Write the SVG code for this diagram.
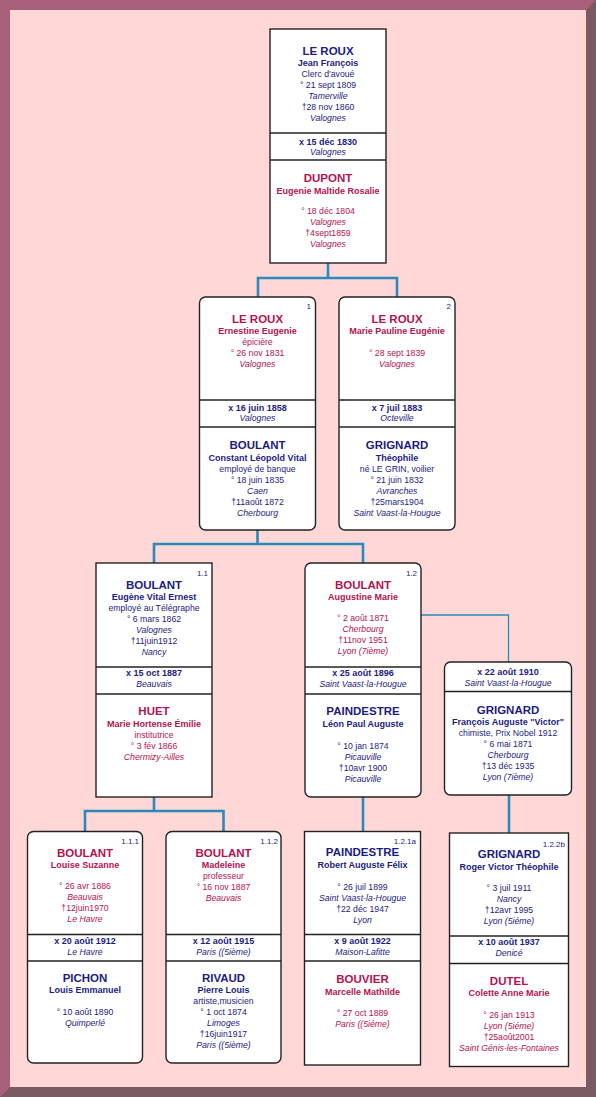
<svg xmlns="http://www.w3.org/2000/svg" width="596" height="1097" viewBox="0 0 596 1097">
<style>
.box{fill:#fff;stroke:#222;stroke-width:1.4}
.dv{stroke:#222;stroke-width:1.4}
.con{fill:none;stroke:#2a8ab9;stroke-width:2.6}
.thin{fill:none;stroke:#2a8ab9;stroke-width:1.3}
text{font-family:"Liberation Sans",Arial,sans-serif;text-anchor:middle;font-size:8.7px}
.sn{font-weight:bold;font-size:11.5px}
.gn{font-weight:bold;font-size:9px}
.mx{font-weight:bold;font-size:9px}
.i{font-style:italic}
.m{fill:#1c1c80}
.f{fill:#b5124f}
.num{font-size:8px;text-anchor:end;fill:#1c1c80}
</style>
<rect x="0" y="0" width="596" height="1097" fill="#a8607a"/>
<polygon points="596,0 596,1097 0,1097 10,1087 586,1087 586,10" fill="#7a5a62"/>
<rect x="10" y="10" width="576" height="1077" fill="#ffd7d7"/>

<g id="connectors">
<path class="con" d="M328,263V278M258,297V278H397V297"/>
<path class="con" d="M257.5,530V544M154,563V544H363V563"/>
<path class="con" d="M154,797V811M85,831V811H223.5V831"/>
<path class="con" d="M363,797V831"/>
<path class="con" d="M509,795V833"/>
<path class="thin" d="M421,615H508.5V662"/>
</g>

<g id="n0">
<rect class="box" x="270" y="29" width="116" height="234"/>
<line class="dv" x1="270" y1="133" x2="386" y2="133"/>
<line class="dv" x1="270" y1="160" x2="386" y2="160"/>
<text x="328" y="55" class="sn m">LE ROUX</text>
<text x="328" y="66" class="gn m">Jean François</text>
<text x="328" y="77" class="m">Clerc d'avoué</text>
<text x="328" y="88" class="m">° 21 sept 1809</text>
<text x="328" y="99" class="m i">Tamerville</text>
<text x="328" y="110" class="m">†28 nov 1860</text>
<text x="328" y="121" class="m i">Valognes</text>
<text x="328" y="144.5" class="mx m">x 15 déc 1830</text>
<text x="328" y="155" class="m i">Valognes</text>
<text x="328" y="182" class="sn f">DUPONT</text>
<text x="328" y="193.5" class="gn f">Eugenie Maltide Rosalie</text>
<text x="328" y="214" class="f">° 18 déc 1804</text>
<text x="328" y="225" class="f i">Valognes</text>
<text x="328" y="236" class="f">†4sept1859</text>
<text x="328" y="247" class="f i">Valognes</text>
</g>

<g id="n1">
<rect class="box" x="199.5" y="297" width="116" height="233" rx="6"/>
<line class="dv" x1="199.5" y1="400" x2="315.5" y2="400"/>
<line class="dv" x1="199.5" y1="427" x2="315.5" y2="427"/>
<text x="311" y="308.5" class="num">1</text>
<text x="257.5" y="322.5" class="sn f">LE ROUX</text>
<text x="257.5" y="334" class="gn f">Ernestine Eugenie</text>
<text x="257.5" y="344.5" class="f">épicière</text>
<text x="257.5" y="355.5" class="f">° 26 nov 1831</text>
<text x="257.5" y="366.5" class="f i">Valognes</text>
<text x="257.5" y="410.5" class="mx m">x 16 juin 1858</text>
<text x="257.5" y="421" class="m i">Valognes</text>
<text x="257.5" y="449" class="sn m">BOULANT</text>
<text x="257.5" y="460.5" class="gn m">Constant Léopold Vital</text>
<text x="257.5" y="471.5" class="m">employé de banque</text>
<text x="257.5" y="482.5" class="m">° 18 juin 1835</text>
<text x="257.5" y="493.5" class="m i">Caen</text>
<text x="257.5" y="504.5" class="m">†11août 1872</text>
<text x="257.5" y="515.5" class="m i">Cherbourg</text>
</g>

<g id="n2">
<rect class="box" x="339" y="297" width="116" height="233" rx="6"/>
<line class="dv" x1="339" y1="400" x2="455" y2="400"/>
<line class="dv" x1="339" y1="427" x2="455" y2="427"/>
<text x="451" y="308.5" class="num">2</text>
<text x="397" y="322.5" class="sn f">LE ROUX</text>
<text x="397" y="334" class="gn f">Marie Pauline Eugénie</text>
<text x="397" y="355.5" class="f">° 28 sept 1839</text>
<text x="397" y="366.5" class="f i">Valognes</text>
<text x="397" y="410.5" class="mx m">x 7 juil 1883</text>
<text x="397" y="421" class="m i">Octeville</text>
<text x="397" y="449" class="sn m">GRIGNARD</text>
<text x="397" y="460.5" class="gn m">Théophile</text>
<text x="397" y="471.5" class="m">né LE GRIN, voilier</text>
<text x="397" y="482.5" class="m">° 21 juin 1832</text>
<text x="397" y="493.5" class="m i">Avranches</text>
<text x="397" y="504.5" class="m">†25mars1904</text>
<text x="397" y="515.5" class="m i">Saint Vaast-la-Hougue</text>
</g>

<g id="n11">
<rect class="box" x="96" y="563" width="116" height="234"/>
<line class="dv" x1="96" y1="667" x2="212" y2="667"/>
<line class="dv" x1="96" y1="694" x2="212" y2="694"/>
<text x="208" y="576" class="num">1.1</text>
<text x="154" y="588.5" class="sn m">BOULANT</text>
<text x="154" y="600" class="gn m">Eugène Vital Ernest</text>
<text x="154" y="611" class="m">employé au Télégraphe</text>
<text x="154" y="622" class="m">° 6 mars 1862</text>
<text x="154" y="633" class="m i">Valognes</text>
<text x="154" y="644" class="m">†11juin1912</text>
<text x="154" y="655" class="m i">Nancy</text>
<text x="154" y="676" class="mx m">x 15 oct 1887</text>
<text x="154" y="687" class="m i">Beauvais</text>
<text x="154" y="715" class="sn f">HUET</text>
<text x="154" y="727" class="gn f">Marie Hortense Émilie</text>
<text x="154" y="738" class="f">institutrice</text>
<text x="154" y="749" class="f">° 3 fév 1866</text>
<text x="154" y="760" class="f i">Chermizy-Ailles</text>
</g>

<g id="n12">
<rect class="box" x="305" y="563" width="116" height="234" rx="6"/>
<line class="dv" x1="305" y1="667" x2="421" y2="667"/>
<line class="dv" x1="305" y1="694" x2="421" y2="694"/>
<text x="417" y="576" class="num">1.2</text>
<text x="363" y="588.5" class="sn f">BOULANT</text>
<text x="363" y="600" class="gn f">Augustine Marie</text>
<text x="363" y="621" class="f">° 2 août 1871</text>
<text x="363" y="632" class="f i">Cherbourg</text>
<text x="363" y="643" class="f">†11nov 1951</text>
<text x="363" y="654" class="f i">Lyon (7ième)</text>
<text x="363" y="676" class="mx m">x 25 août 1896</text>
<text x="363" y="687" class="m i">Saint Vaast-la-Hougue</text>
<text x="363" y="715" class="sn m">PAINDESTRE</text>
<text x="363" y="727" class="gn m">Léon Paul Auguste</text>
<text x="363" y="749" class="m">° 10 jan 1874</text>
<text x="363" y="760" class="m i">Picauville</text>
<text x="363" y="771" class="m">†10avr 1900</text>
<text x="363" y="782" class="m i">Picauville</text>
</g>

<g id="n12b">
<rect class="box" x="444.5" y="662" width="127" height="133" rx="6"/>
<line class="dv" x1="444.5" y1="691.5" x2="571.5" y2="691.5"/>
<text x="508" y="675" class="mx m">x 22 août 1910</text>
<text x="508" y="685.5" class="m i">Saint Vaast-la-Hougue</text>
<text x="508" y="713.5" class="sn m">GRIGNARD</text>
<text x="508" y="725" class="gn m">François Auguste "Victor"</text>
<text x="508" y="736" class="m">chimiste, Prix Nobel 1912</text>
<text x="508" y="747" class="m">° 6 mai 1871</text>
<text x="508" y="758" class="m i">Cherbourg</text>
<text x="508" y="769" class="m">†13 déc 1935</text>
<text x="508" y="780" class="m i">Lyon (7ième)</text>
</g>

<g id="n111">
<rect class="box" x="27.5" y="831.5" width="115" height="231.5" rx="6"/>
<line class="dv" x1="27.5" y1="934.5" x2="142.5" y2="934.5"/>
<line class="dv" x1="27.5" y1="961" x2="142.5" y2="961"/>
<text x="139" y="844" class="num">1.1.1</text>
<text x="85" y="857" class="sn f">BOULANT</text>
<text x="85" y="868" class="gn f">Louise Suzanne</text>
<text x="85" y="889" class="f">° 26 avr 1886</text>
<text x="85" y="900" class="f i">Beauvais</text>
<text x="85" y="911" class="f">†12juin1970</text>
<text x="85" y="922" class="f i">Le Havre</text>
<text x="85" y="944" class="mx m">x 20 août 1912</text>
<text x="85" y="954.5" class="m i">Le Havre</text>
<text x="85" y="982" class="sn m">PICHON</text>
<text x="85" y="993" class="gn m">Louis Emmanuel</text>
<text x="85" y="1014.5" class="m">° 10 août 1890</text>
<text x="85" y="1025.5" class="m i">Quimperlé</text>
</g>

<g id="n112">
<rect class="box" x="166" y="831.5" width="115" height="231.5" rx="6"/>
<line class="dv" x1="166" y1="934.5" x2="281" y2="934.5"/>
<line class="dv" x1="166" y1="961" x2="281" y2="961"/>
<text x="278" y="844" class="num">1.1.2</text>
<text x="223.5" y="857" class="sn f">BOULANT</text>
<text x="223.5" y="868" class="gn f">Madeleine</text>
<text x="223.5" y="879" class="f">professeur</text>
<text x="223.5" y="890" class="f">° 16 nov 1887</text>
<text x="223.5" y="901" class="f i">Beauvais</text>
<text x="223.5" y="944" class="mx m">x 12 août 1915</text>
<text x="223.5" y="954.5" class="m i">Paris ((5ième)</text>
<text x="223.5" y="982" class="sn m">RIVAUD</text>
<text x="223.5" y="993" class="gn m">Pierre  Louis</text>
<text x="223.5" y="1004" class="m">artiste,musicien</text>
<text x="223.5" y="1015" class="m">° 1 oct 1874</text>
<text x="223.5" y="1026" class="m i">Limoges</text>
<text x="223.5" y="1037" class="m">†16juin1917</text>
<text x="223.5" y="1048" class="m i">Paris ((5ième)</text>
</g>

<g id="n121a">
<rect class="box" x="304.5" y="831.5" width="116" height="233.5"/>
<line class="dv" x1="304.5" y1="934.5" x2="420.5" y2="934.5"/>
<line class="dv" x1="304.5" y1="961" x2="420.5" y2="961"/>
<text x="416" y="843.5" class="num">1.2.1a</text>
<text x="362.5" y="856" class="sn m">PAINDESTRE</text>
<text x="362.5" y="868" class="gn m">Robert Auguste Félix</text>
<text x="362.5" y="889.5" class="m">° 26 juil 1899</text>
<text x="362.5" y="900.5" class="m i">Saint Vaast-la-Hougue</text>
<text x="362.5" y="911.5" class="m">†22 déc 1947</text>
<text x="362.5" y="922.5" class="m i">Lyon</text>
<text x="362.5" y="944" class="mx m">x 9 août 1922</text>
<text x="362.5" y="954.5" class="m i">Maison-Lafitte</text>
<text x="362.5" y="983" class="sn f">BOUVIER</text>
<text x="362.5" y="994.5" class="gn f">Marcelle Mathilde</text>
<text x="362.5" y="1016" class="f">° 27 oct 1889</text>
<text x="362.5" y="1027" class="f i">Paris ((5iéme)</text>
</g>

<g id="n122b">
<rect class="box" x="449.5" y="833" width="119" height="233.5"/>
<line class="dv" x1="449.5" y1="936" x2="568.5" y2="936"/>
<line class="dv" x1="449.5" y1="963.5" x2="568.5" y2="963.5"/>
<text x="565" y="846.5" class="num">1.2.2b</text>
<text x="509" y="857.5" class="sn m">GRIGNARD</text>
<text x="509" y="869.5" class="gn m">Roger Victor Théophile</text>
<text x="509" y="891" class="m">° 3 juil 1911</text>
<text x="509" y="902" class="m i">Nancy</text>
<text x="509" y="913" class="m">†12avr 1995</text>
<text x="509" y="924" class="m i">Lyon (5iéme)</text>
<text x="509" y="945" class="mx m">x 10 août 1937</text>
<text x="509" y="955.5" class="m i">Denicé</text>
<text x="509" y="984.5" class="sn f">DUTEL</text>
<text x="509" y="996" class="gn f">Colette Anne Marie</text>
<text x="509" y="1017.5" class="f">° 26 jan 1913</text>
<text x="509" y="1028.5" class="f i">Lyon (5iéme)</text>
<text x="509" y="1039.5" class="f">†25août2001</text>
<text x="509" y="1050.5" class="f i">Saint Génis-les-Fontaines</text>
</g>
</svg>
